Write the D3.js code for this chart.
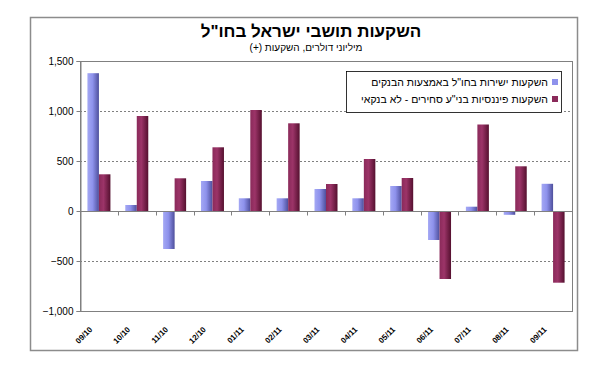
<!DOCTYPE html>
<html>
<head>
<meta charset="utf-8">
<script src="https://cdn.jsdelivr.net/npm/d3@7"></script>
<style>
  body { margin: 0; background: #fff; }
  text { font-family: Arial, "Liberation Sans", "DejaVu Sans", sans-serif; }
</style>
</head>
<body>
<div id="chart"></div>
<script>
// נתונים
const months = ["09/10", "10/10", "11/10", "12/10", "01/11", "02/11", "03/11", "04/11", "05/11", "06/11", "07/11", "08/11", "09/11"];
const direct = [1378, 60, -380, 300, 127, 127, 220, 127, 250, -290, 43, -38, 272];
const financial = [367, 950, 327, 637, 1010, 877, 270, 520, 330, -680, 865, 447, -717];
const seriesNames = ['השקעות ישירות בחו"ל באמצעות הבנקים', 'השקעות פיננסיות בני"ע סחירים - לא בנקאי'];
const yTicks = [-1000, -500, 0, 500, 1000, 1500];

const width = 609, height = 365;
const plot = { left: 80, right: 572, top: 61, bottom: 311 };

const svg = d3.select("#chart").append("svg")
    .attr("width", width)
    .attr("height", height);

// גרדיאנטים לעמודות
const defs = svg.append("defs");
function grad(id, stops) {
    const g = defs.append("linearGradient").attr("id", id)
        .attr("x1", "0%").attr("x2", "100%").attr("y1", "0%").attr("y2", "0%");
    stops.forEach(([o, c]) => g.append("stop").attr("offset", o).attr("stop-color", c));
}
grad("gBlue", [["0%", "#a4a8f4"], ["45%", "#8e92ec"], ["100%", "#4e4f9c"]]);
grad("gRed", [["0%", "#8a2a5a"], ["40%", "#9c3468"], ["100%", "#55102f"]]);
const fills = ["url(#gBlue)", "url(#gRed)"];
const legendColors = ["#8e92ec", "#8a2a5a"];

// מסגרת חיצונית
svg.append("rect")
    .attr("x", 30.5).attr("y", 17.5)
    .attr("width", 547).attr("height", 333)
    .attr("fill", "none").attr("stroke", "#8c8c8c").attr("stroke-width", 1.5);

// כותרות
svg.append("text")
    .attr("x", 311).attr("y", 37)
    .attr("direction", "rtl")
    .attr("text-anchor", "middle")
    .style("font-size", "17px").style("font-weight", "bold")
    .text('השקעות תושבי ישראל בחו"ל');
svg.append("text")
    .attr("x", 306).attr("y", 51)
    .attr("direction", "rtl")
    .attr("text-anchor", "middle")
    .style("font-size", "10px")
    .text("מיליוני דולרים, השקעות (+)");

// סקאלות
const x = d3.scaleBand().domain(months).range([plot.left, plot.right]).padding(0);
const y = d3.scaleLinear().domain([-1000, 1500]).range([plot.bottom, plot.top]);
const barW = 11.5;

// קווי רשת
svg.append("g").selectAll("line")
    .data(yTicks.filter(d => d !== 0 && d !== 1500 && d !== -1000))
    .join("line")
    .attr("x1", plot.left).attr("x2", plot.right)
    .attr("y1", d => Math.round(y(d)) + 0.5).attr("y2", d => Math.round(y(d)) + 0.5)
    .attr("stroke", "#808080").attr("stroke-dasharray", "2,2");

// מסגרת אזור השרטוט
svg.append("rect")
    .attr("x", plot.left + 0.5).attr("y", plot.top + 0.5)
    .attr("width", plot.right - plot.left).attr("height", plot.bottom - plot.top)
    .attr("fill", "none").attr("stroke", "#808080");

// עמודות
[direct, financial].forEach((vals, s) => {
    svg.append("g").selectAll("rect")
        .data(vals.map((v, i) => ({ m: months[i], v })))
        .join("rect")
        .attr("x", d => x(d.m) + x.bandwidth() / 2 - barW + s * barW)
        .attr("y", d => y(Math.max(0, d.v)))
        .attr("width", barW)
        .attr("height", d => Math.abs(y(d.v) - y(0)))
        .attr("fill", fills[s]);
});

// ציר Y
const yAxis = svg.append("g")
    .attr("transform", `translate(${plot.left + 0.5},0)`)
    .call(d3.axisLeft(y).tickValues(yTicks).tickFormat(d3.format(",")).tickSizeOuter(0).tickSize(4).tickPadding(3));
yAxis.select(".domain").attr("stroke", "#808080");
yAxis.selectAll(".tick line").attr("stroke", "#808080");
yAxis.selectAll("text").style("font-size", "10px").attr("fill", "#000");

// ציר X בקו האפס
const zeroY = Math.round(y(0)) + 0.5;
svg.append("line")
    .attr("x1", plot.left).attr("x2", plot.right)
    .attr("y1", zeroY).attr("y2", zeroY)
    .attr("stroke", "#808080");
svg.append("g").selectAll("line")
    .data(months.slice(1))
    .join("line")
    .attr("x1", d => Math.round(x(d)) + 0.5).attr("x2", d => Math.round(x(d)) + 0.5)
    .attr("y1", zeroY).attr("y2", zeroY + 4)
    .attr("stroke", "#808080");

// תוויות חודשים
svg.append("g").selectAll("text")
    .data(months)
    .join("text")
    .attr("transform", d => `translate(${x(d) + x.bandwidth() / 2 - 6},${plot.bottom + 19}) rotate(-45)`)
    .attr("text-anchor", "end")
    .style("font-size", "8px").style("font-weight", "bold")
    .text(d => d);

// מקרא
const legend = svg.append("g");
legend.append("rect")
    .attr("x", 346.5).attr("y", 71.5)
    .attr("width", 215).attr("height", 41)
    .attr("fill", "#fff").attr("stroke", "#000").attr("stroke-width", 0.8);
seriesNames.forEach((name, i) => {
    const yy = 86 + i * 17;
    legend.append("rect")
        .attr("x", 552).attr("y", yy - 7)
        .attr("width", 6).attr("height", 6)
        .attr("fill", legendColors[i]);
    legend.append("text")
        .attr("x", 548).attr("y", yy)
        .attr("direction", "rtl")
        .attr("text-anchor", "start")
        .style("font-size", "10.5px")
        .text(name);
});
</script>
</body>
</html>
